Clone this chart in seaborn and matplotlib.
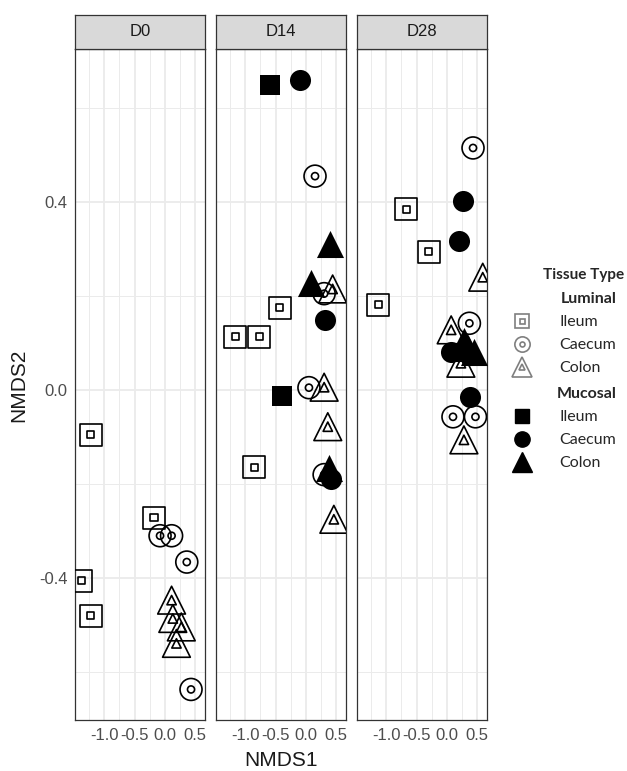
import pandas as pd
import seaborn as sns
import matplotlib.pyplot as plt
from matplotlib.lines import Line2D
from matplotlib.legend_handler import HandlerTuple

# --- data ---
days = ['D0', 'D14', 'D28']
tissues = ['Ileum', 'Caecum', 'Colon']

sample_day = (['D0'] * 12
              + ['D14'] * 20
              + ['D28'] * 18)
sample_site = (['Luminal'] * 12
               + ['Luminal'] * 12 + ['Mucosal'] * 8
               + ['Luminal'] * 11 + ['Mucosal'] * 7)
sample_tissue = (['Ileum'] * 4 + ['Caecum'] * 4 + ['Colon'] * 4
                 + ['Ileum'] * 4 + ['Caecum'] * 4 + ['Colon'] * 4
                 + ['Ileum'] * 2 + ['Caecum'] * 3 + ['Colon'] * 3
                 + ['Ileum'] * 3 + ['Caecum'] * 4 + ['Colon'] * 4
                 + ['Caecum'] * 4 + ['Colon'] * 3)
nmds1 = [-1.22, -0.18, -1.38, -1.22,
         -0.08, 0.11, 0.36, 0.43,
         0.11, 0.13, 0.27, 0.19,
         -0.43, -1.16, -0.77, -0.85,
         0.15, 0.30, 0.05, 0.30,
         0.44, 0.30, 0.36, 0.46,
         -0.59, -0.39,
         -0.10, 0.31, 0.41,
         0.39, 0.08, 0.38,
         -0.67, -0.30, -1.13,
         0.43, 0.37, 0.10, 0.47,
         0.59, 0.07, 0.23, 0.28,
         0.26, 0.20, 0.07, 0.38,
         0.28, 0.44, 0.35]
nmds2 = [-0.095, -0.272, -0.406, -0.480,
         -0.310, -0.310, -0.366, -0.637,
         -0.447, -0.486, -0.504, -0.539,
         0.175, 0.113, 0.113, -0.164,
         0.455, 0.205, 0.005, -0.180,
         0.215, 0.006, -0.078, -0.275,
         0.649, -0.013,
         0.660, 0.149, -0.190,
         0.310, 0.228, -0.165,
         0.385, 0.294, 0.181,
         0.515, 0.142, -0.057, -0.057,
         0.240, 0.128, 0.057, -0.106,
         0.402, 0.317, 0.080, -0.014,
         0.105, 0.080, 0.090]

df = pd.DataFrame({'day': sample_day, 'site': sample_site, 'tissue': sample_tissue,
                   'NMDS1': nmds1, 'NMDS2': nmds2})

# --- style ---
sns.set_style('white')
plt.rcParams['font.family'] = ['Liberation Sans', 'DejaVu Sans']

shape = {'Ileum': 's', 'Caecum': 'o', 'Colon': '^'}
outer_s = {'Ileum': 250, 'Caecum': 250, 'Colon': 400}
inner_s = {'Ileum': 26, 'Caecum': 26, 'Colon': 45}
filled_s = {'Ileum': 210, 'Caecum': 230, 'Colon': 380}

W, H = 627, 771
fig = plt.figure(figsize=(W / 100, H / 100), dpi=100)

panel_left = [75, 216, 357]
panel_w = 130
panel_top, panel_bot = 49, 720
strip_top = 15

for i, (d, left) in enumerate(zip(days, panel_left)):
    ax = fig.add_axes([left / W, 1 - panel_bot / H, panel_w / W, (panel_bot - panel_top) / H])
    sub = df[df['day'] == d]
    for site in ['Luminal', 'Mucosal']:
        for t in tissues:
            g = sub[(sub['site'] == site) & (sub['tissue'] == t)]
            if g.empty:
                continue
            if site == 'Luminal':
                sns.scatterplot(data=g, x='NMDS1', y='NMDS2', marker=shape[t], s=outer_s[t],
                                facecolors='none', edgecolor='black', linewidth=1.2, ax=ax, zorder=3)
                sns.scatterplot(data=g, x='NMDS1', y='NMDS2', marker=shape[t], s=inner_s[t],
                                facecolors='none', edgecolor='black', linewidth=1.2, ax=ax, zorder=3)
            else:
                sns.scatterplot(data=g, x='NMDS1', y='NMDS2', marker=shape[t], s=filled_s[t],
                                color='black', edgecolor='black', linewidth=0, ax=ax, zorder=4)

    ax.set_xlim(-1.48, 0.66)
    ax.set_ylim(-0.702, 0.7255)
    ax.set_xticks([-1.0, -0.5, 0.0, 0.5])
    ax.set_xticklabels(['-1.0', '-0.5', '0.0', '0.5'])
    ax.set_xticks([-1.25, -0.75, -0.25, 0.25], minor=True)
    ax.set_yticks([-0.4, 0.0, 0.4])
    ax.set_yticks([-0.6, -0.2, 0.2, 0.6], minor=True)
    if i == 0:
        ax.set_yticklabels(['-0.4', '0.0', '0.4'])
        ax.tick_params(axis='y', which='major', length=3.5, width=0.9, color='#333333',
                       labelsize=12, labelcolor='#4D4D4D', pad=2)
    else:
        ax.tick_params(axis='y', which='major', length=0, labelleft=False)
    ax.tick_params(axis='x', which='major', length=3.5, width=0.9, color='#333333',
                   labelsize=12, labelcolor='#4D4D4D', pad=2)
    ax.tick_params(which='minor', length=0)
    ax.grid(which='major', color='#EBEBEB', linewidth=1.3)
    ax.grid(which='minor', color='#EBEBEB', linewidth=0.7)
    ax.set_axisbelow(True)
    for sp in ax.spines.values():
        sp.set_color('#333333')
        sp.set_linewidth(0.9)
    ax.set_xlabel('')
    ax.set_ylabel('')

    # facet strip
    sax = fig.add_axes([left / W, 1 - panel_top / H, panel_w / W, (panel_top - strip_top) / H])
    sax.set_facecolor('#D9D9D9')
    sax.set_xticks([])
    sax.set_yticks([])
    for sp in sax.spines.values():
        sp.set_color('#333333')
        sp.set_linewidth(0.9)
    sax.text(0.5, 0.5, d, ha='center', va='center', fontsize=12, color='#1A1A1A',
             transform=sax.transAxes)

fig.text(281 / W, 1 - 760 / H, 'NMDS1', ha='center', va='center', fontsize=15, color='#1A1A1A')
fig.text(19 / W, 1 - 385 / H, 'NMDS2', ha='center', va='center', fontsize=15,
         color='#1A1A1A', rotation=90)

# --- legend ---
leg_font = {'family': 'Lato', 'size': 11.5}
fig.text(584 / W, 1 - 275 / H, 'Tissue Type', ha='center', va='center',
         fontfamily='Lato', fontsize=11, fontweight='bold')

grey = '#7F7F7F'
lum_ms = {'Ileum': 10.5, 'Caecum': 11, 'Colon': 14}
lum_in = {'Ileum': 3.6, 'Caecum': 3.6, 'Colon': 4.8}
muc_ms = {'Ileum': 10, 'Caecum': 11, 'Colon': 14}

lum_handles = [(Line2D([], [], ls='none', marker=shape[t], ms=lum_ms[t], mfc='none', mec=grey, mew=1.2),
                Line2D([], [], ls='none', marker=shape[t], ms=lum_in[t], mfc='none', mec=grey, mew=1.2))
               for t in tissues]
muc_handles = [Line2D([], [], ls='none', marker=shape[t], ms=muc_ms[t], mfc='black', mec='black')
               for t in tissues]

for handles, title, top in [(lum_handles, 'Luminal', 292), (muc_handles, 'Mucosal', 387)]:
    leg = fig.legend(handles, tissues, loc='upper left', bbox_to_anchor=(510 / W, 1 - top / H),
                     frameon=False, title=title, prop=leg_font, borderpad=0, borderaxespad=0,
                     handlelength=1.5, handletextpad=1.6, labelspacing=0.56,
                     handler_map={tuple: HandlerTuple(ndivide=1)}, alignment='right')
    leg.get_title().set_fontfamily('Lato')
    leg.get_title().set_fontweight('bold')
    leg.get_title().set_fontsize(11.5)

fig.savefig('out.png', dpi=100)
